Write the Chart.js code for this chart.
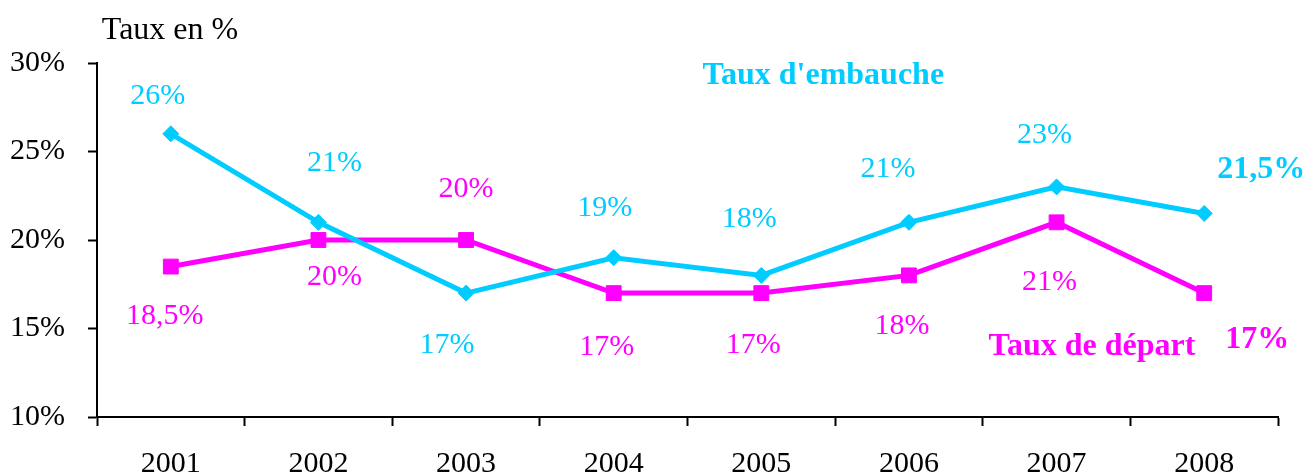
<!DOCTYPE html>
<html>
<head>
<meta charset="utf-8">
<script src="https://cdn.jsdelivr.net/npm/chart.js@4/dist/chart.umd.min.js"></script>
<style>
  html, body { margin: 0; padding: 0; background: #fff; }
  #wrap { width: 1309px; height: 475px; position: relative; }
</style>
</head>
<body>
<div id="wrap"><canvas id="graficoLineas"></canvas></div>
<script>
// donnees
var annees = ['2001', '2002', '2003', '2004', '2005', '2006', '2007', '2008'];
var tauxEmbauche = [26, 21, 17, 19, 18, 21, 23, 21.5];
var tauxDepart = [18.5, 20, 20, 17, 17, 18, 21, 17];
var etiqEmbauche = ['26%', '21%', '17%', '19%', '18%', '21%', '23%', '21,5%'];
var etiqDepart = ['18,5%', '20%', '20%', '17%', '17%', '18%', '21%', '17%'];
var ticksY = [10, 15, 20, 25, 30];

// placement des etiquettes (decalage en px par rapport au point)
var decalEmbauche = [[-13, -38], [16, -59], [-19, 52], [-9, -50], [-12, -56], [-21, -53], [-12, -52], [57, -44]];
var decalDepart = [[-6, 50], [16, 37], [0, -51], [-7, 54], [-8, 52], [-7, 51], [-7, 60], [53, 47]];

var cyan = '#00CCFF';
var magenta = '#FF00FF';
var police = "'Liberation Serif', 'Times New Roman', serif";

const etiquettes = {
  id: 'etiquettes',
  afterDatasetsDraw(chart) {
    const ctx = chart.ctx;
    const x = chart.scales.x, y = chart.scales.y;
    ctx.save();
    ctx.textAlign = 'center';
    ctx.textBaseline = 'middle';

    const dessine = function (vals, txt, dec, coul) {
      ctx.fillStyle = coul;
      for (let i = 0; i < vals.length; i++) {
        const gras = i === vals.length - 1;
        ctx.font = gras ? 'bold 32px ' + police : '30px ' + police;
        ctx.fillText(txt[i], x.getPixelForValue(i) + dec[i][0], y.getPixelForValue(vals[i]) + dec[i][1]);
      }
    };
    dessine(tauxEmbauche, etiqEmbauche, decalEmbauche, cyan);
    dessine(tauxDepart, etiqDepart, decalDepart, magenta);

    // noms des series
    ctx.font = 'bold 32px ' + police;
    ctx.fillStyle = cyan;
    ctx.fillText("Taux d'embauche", x.getPixelForValue(4.42), y.getPixelForValue(29.27));
    ctx.fillStyle = magenta;
    ctx.fillText('Taux de départ', x.getPixelForValue(6.24), y.getPixelForValue(13.95));

    // titre axe y
    ctx.fillStyle = '#000';
    ctx.font = '32px ' + police;
    ctx.fillText('Taux en %', 170, 31);
    ctx.restore();
  }
};

const chartData = {
  labels: annees,
  datasets: [
    {
      label: "Taux d'embauche",
      data: tauxEmbauche,
      borderColor: cyan,
      backgroundColor: cyan,
      borderWidth: 5,
      pointStyle: 'rectRot',
      pointRadius: 8,
      pointBorderWidth: 1,
      tension: 0
    },
    {
      label: 'Taux de départ',
      data: tauxDepart,
      borderColor: magenta,
      backgroundColor: magenta,
      borderWidth: 5,
      pointStyle: 'rect',
      pointRadius: 10.5,
      pointBorderWidth: 1,
      tension: 0
    }
  ]
};

const options = {
  responsive: true,
  maintainAspectRatio: false,
  animation: false,
  layout: {
    padding: { top: 63, right: 31, left: 0, bottom: 0 }
  },
  scales: {
    x: {
      type: 'category',
      offset: true,
      afterFit: function (s) { s.height = 58; },
      border: { display: true, color: '#000', width: 2 },
      grid: {
        offset: true,
        drawOnChartArea: false,
        drawTicks: true,
        tickLength: 9,
        tickWidth: 2,
        tickColor: '#000'
      },
      ticks: {
        color: '#000',
        padding: 20,
        maxRotation: 0,
        font: { family: police, size: 30 }
      }
    },
    y: {
      type: 'linear',
      min: 10,
      max: 30,
      afterFit: function (s) { s.width = 97; },
      afterBuildTicks: function (s) { s.ticks = ticksY.map(function (v) { return { value: v }; }); },
      border: { display: true, color: '#000', width: 2 },
      grid: {
        drawOnChartArea: false,
        drawTicks: true,
        tickLength: 9,
        tickWidth: 2,
        tickColor: '#000'
      },
      ticks: {
        color: '#000',
        padding: 23,
        font: { family: police, size: 30 },
        callback: function (v) { return v + '%'; }
      }
    }
  },
  plugins: {
    legend: { display: false },
    tooltip: { enabled: false }
  }
};

new Chart(document.getElementById('graficoLineas'), {
  type: 'line',
  data: chartData,
  options: options,
  plugins: [etiquettes]
});
</script>
</body>
</html>
